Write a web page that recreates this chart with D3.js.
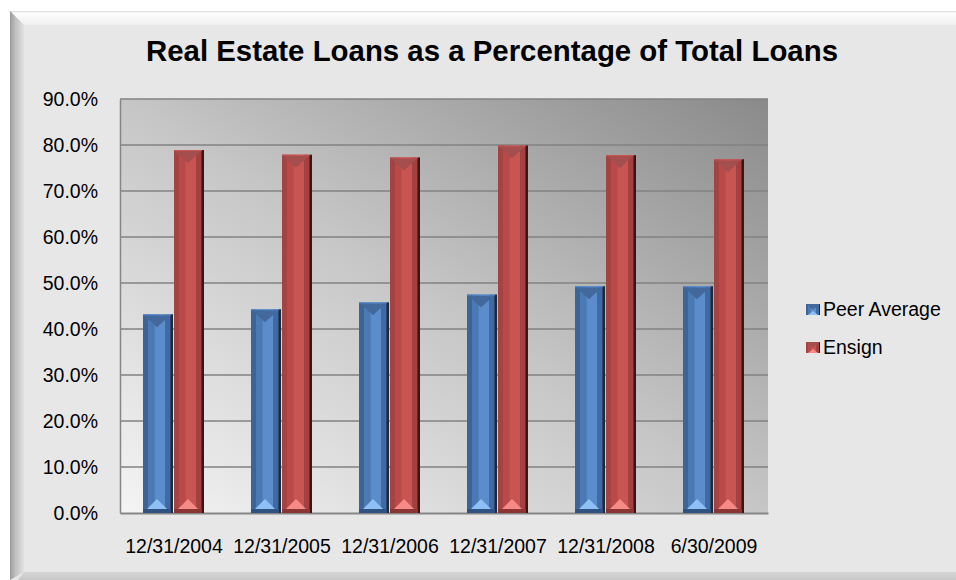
<!DOCTYPE html>
<html>
<head>
<meta charset="utf-8">
<script src="https://cdn.jsdelivr.net/npm/d3@7"></script>
<style>
  html, body { margin: 0; padding: 0; background: #ffffff; }
  svg { display: block; font-family: "Liberation Sans", Arial, sans-serif; }
</style>
</head>
<body>
<div id="chart"></div>
<script>
// values (percent)
const categories = ["12/31/2004", "12/31/2005", "12/31/2006", "12/31/2007", "12/31/2008", "6/30/2009"];
const seriesNames = ["Peer Average", "Ensign"];
const peerAverage = [43.2, 44.3, 45.8, 47.5, 49.3, 49.3];
const ensign = [78.9, 77.9, 77.3, 79.9, 77.8, 76.9];
const yTicks = [0, 10, 20, 30, 40, 50, 60, 70, 80, 90];

const width = 956, height = 580;
const plot = { left: 120, top: 99, right: 768, bottom: 513 };

// bevel colours per series
const palette = {
  "Peer Average": { edge: "#3b6498", mid: "#4a79b3", light: "#5b8ccb", dark: "#3f6aa3", shade: "#1d2a3c",
                    top: "#43699c", tri: "#8ec0f6", foot: "#2f5280" },
  "Ensign":       { edge: "#a44342", mid: "#b84b49", light: "#c95553", dark: "#a34140", shade: "#3b1514",
                    top: "#a44f4e", tri: "#f58a86", foot: "#8a3533" }
};

const rows = categories.map(function(c, i) {
  return { cat: c, values: [
    { name: seriesNames[0], v: peerAverage[i] },
    { name: seriesNames[1], v: ensign[i] }
  ]};
});

const svg = d3.select("#chart").append("svg")
  .attr("width", width)
  .attr("height", height);

const defs = svg.append("defs");

// chart area background gradients
const plotGrad = defs.append("linearGradient")
  .attr("id", "plotGrad")
  .attr("x1", 0).attr("y1", 1).attr("x2", 1).attr("y2", 0);
plotGrad.append("stop").attr("offset", "0%").attr("stop-color", "#f4f4f4");
plotGrad.append("stop").attr("offset", "50%").attr("stop-color", "#c6c6c6");
plotGrad.append("stop").attr("offset", "100%").attr("stop-color", "#8a8a8a");

const leftGrad = defs.append("linearGradient")
  .attr("id", "leftBevel").attr("x1", 0).attr("x2", 1).attr("y1", 0).attr("y2", 0);
leftGrad.append("stop").attr("offset", "0%").attr("stop-color", "#9a9a9a");
leftGrad.append("stop").attr("offset", "35%").attr("stop-color", "#bdbdbd");
leftGrad.append("stop").attr("offset", "100%").attr("stop-color", "#e2e2e2");

const topGrad = defs.append("linearGradient")
  .attr("id", "topBevel").attr("x1", 0).attr("x2", 0).attr("y1", 0).attr("y2", 1);
topGrad.append("stop").attr("offset", "0%").attr("stop-color", "#d8d8d8");
topGrad.append("stop").attr("offset", "15%").attr("stop-color", "#fdfdfd");
topGrad.append("stop").attr("offset", "100%").attr("stop-color", "#f0f0f0");

const botGrad = defs.append("linearGradient")
  .attr("id", "botBevel").attr("x1", 0).attr("x2", 0).attr("y1", 0).attr("y2", 1);
botGrad.append("stop").attr("offset", "0%").attr("stop-color", "#d6d6d6");
botGrad.append("stop").attr("offset", "100%").attr("stop-color", "#b4b4b4");

// horizontal shading for the bars
seriesNames.forEach(function(name, i) {
  const p = palette[name];
  const g = defs.append("linearGradient")
    .attr("id", "bar" + i).attr("x1", 0).attr("x2", 1).attr("y1", 0).attr("y2", 0);
  [["0%", p.edge], ["16%", p.edge], ["17%", p.mid], ["38%", p.mid], ["39%", p.light],
   ["72%", p.light], ["73%", p.dark], ["90%", p.dark], ["93%", p.shade], ["100%", p.shade]]
    .forEach(function(s) { g.append("stop").attr("offset", s[0]).attr("stop-color", s[1]); });
});

// outer frame with bevel
const fx0 = 10, fy0 = 11, fx1 = 990, fy1 = 590, bev = 14;
svg.append("rect")
  .attr("x", fx0).attr("y", fy0)
  .attr("width", fx1 - fx0).attr("height", fy1 - fy0)
  .attr("fill", "#e7e7e7");
svg.append("polygon")
  .attr("points", [[fx0, fy0], [fx1, fy0], [fx1 - bev, fy0 + bev], [fx0 + bev, fy0 + bev]].join(" "))
  .attr("fill", "url(#topBevel)");
svg.append("polygon")
  .attr("points", [[fx0, fy0], [fx0 + bev, fy0 + bev], [fx0 + bev, 572], [fx0, 580]].join(" "))
  .attr("fill", "url(#leftBevel)");
svg.append("polygon")
  .attr("points", [[fx0 + bev, 572], [fx1, 572], [fx1, 590], [fx0, 590]].join(" "))
  .attr("fill", "url(#botBevel)");

// title
svg.append("text")
  .attr("x", 492)
  .attr("y", 61)
  .attr("text-anchor", "middle")
  .attr("font-size", "29.4px")
  .attr("font-weight", "bold")
  .attr("fill", "#000")
  .text("Real Estate Loans as a Percentage of Total Loans");

// scales
const x0 = d3.scaleBand()
  .domain(categories)
  .range([plot.left, plot.right])
  .paddingInner(0.4444)
  .paddingOuter(0.2222);

const x1 = d3.scaleBand()
  .domain(seriesNames)
  .range([0, x0.bandwidth()]);

const y = d3.scaleLinear()
  .domain([0, 90])
  .range([plot.bottom, plot.top]);

// plot area
svg.append("rect")
  .attr("x", plot.left).attr("y", plot.top)
  .attr("width", plot.right - plot.left)
  .attr("height", plot.bottom - plot.top)
  .attr("fill", "url(#plotGrad)");

// gridlines
svg.append("g")
  .selectAll("line")
  .data(yTicks.slice(1))
  .join("line")
  .attr("x1", plot.left).attr("x2", plot.right)
  .attr("y1", function(d) { return y(d); })
  .attr("y2", function(d) { return y(d); })
  .attr("stroke", "#828282")
  .attr("stroke-width", 1.5);

// y axis
const yAxis = d3.axisLeft(y)
  .tickValues(yTicks)
  .tickSize(0)
  .tickPadding(22)
  .tickFormat(function(d) { return d3.format(".1f")(d) + "%"; });

const yG = svg.append("g")
  .attr("transform", "translate(" + plot.left + ",0)")
  .call(yAxis);
yG.select(".domain").attr("stroke", "#868686").attr("stroke-width", 1.5);
yG.selectAll("text")
  .attr("font-size", "19.5px")
  .attr("font-family", "Liberation Sans, Arial, sans-serif")
  .attr("fill", "#000");

// x axis
const xAxis = d3.axisBottom(x0)
  .tickSize(0)
  .tickPadding(26);

const xG = svg.append("g")
  .attr("transform", "translate(0," + plot.bottom + ")")
  .call(xAxis);
xG.select(".domain").attr("stroke", "#868686").attr("stroke-width", 2);
xG.selectAll("text")
  .attr("font-size", "19.5px")
  .attr("font-family", "Liberation Sans, Arial, sans-serif")
  .attr("fill", "#000");

// bars
const groups = svg.append("g")
  .selectAll("g")
  .data(rows)
  .join("g")
  .attr("transform", function(d) { return "translate(" + (x0(d.cat) - 1) + ",0)"; });

const bars = groups.selectAll("g")
  .data(function(d) { return d.values; })
  .join("g");

bars.each(function(d) {
  const g = d3.select(this);
  const i = seriesNames.indexOf(d.name);
  const p = palette[d.name];
  const bx = x1(d.name) + (i === 1 ? 1 : 0);
  const bw = x1.bandwidth();
  const top = y(d.v);
  const base = y(0);
  g.append("rect")
    .attr("x", bx).attr("y", top)
    .attr("width", bw).attr("height", base - top)
    .attr("fill", "url(#bar" + i + ")");
  // top facet
  g.append("polygon")
    .attr("points", [[bx + 1, top + 1], [bx + bw - 3, top + 1], [bx + bw / 2 - 1, top + 13]].join(" "))
    .attr("fill", p.top);
  g.append("line")
    .attr("x1", bx).attr("x2", bx + bw - 2)
    .attr("y1", top + 0.5).attr("y2", top + 0.5)
    .attr("stroke", p.light).attr("stroke-width", 1);
  // bottom facet
  g.append("rect")
    .attr("x", bx).attr("y", base - 4)
    .attr("width", bw - 2).attr("height", 4)
    .attr("fill", p.foot);
  g.append("polygon")
    .attr("points", [[bx + 4, base - 4], [bx + bw - 6, base - 4], [bx + bw / 2 - 1, base - 14]].join(" "))
    .attr("fill", p.tri);
});

// legend
const legend = svg.append("g")
  .selectAll("g")
  .data(seriesNames)
  .join("g")
  .attr("transform", function(d, i) { return "translate(806," + (316 + i * 38) + ")"; });

legend.append("rect")
  .attr("x", 0).attr("y", -12)
  .attr("width", 14).attr("height", 11)
  .attr("fill", function(d, i) { return "url(#bar" + i + ")"; });
legend.append("polygon")
  .attr("points", "0,-12 14,-12 7,-6.5")
  .attr("fill", function(d) { return palette[d].top; });
legend.append("polygon")
  .attr("points", "2,-1 12,-1 7,-5")
  .attr("fill", function(d) { return palette[d].tri; });

legend.append("text")
  .attr("x", 17)
  .attr("y", 0)
  .attr("font-size", "19.5px")
  .attr("fill", "#000")
  .text(function(d) { return d; });
</script>
</body>
</html>
